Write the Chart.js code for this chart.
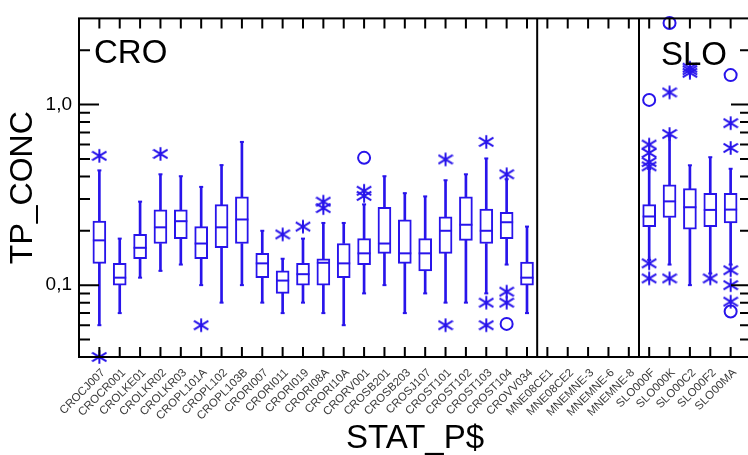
<!DOCTYPE html>
<html>
<head>
<meta charset="utf-8">
<script src="https://cdn.jsdelivr.net/npm/chart.js@4/dist/chart.umd.min.js"></script>
<style>
  html, body { margin: 0; padding: 0; overflow: hidden; background: #fff; }
  #wrap { width: 760px; height: 455px; position: relative; }
</style>
</head>
<body>
<div id="wrap"><canvas id="box-chart"></canvas></div>
<script>
// stations on the x axis
const stations = ['CROCJ007', 'CROCR001', 'CROLKE01', 'CROLKR02', 'CROLKR03', 'CROPL101A', 'CROPL102', 'CROPL103B',
  'CRORI007', 'CRORI011', 'CRORI019', 'CRORI08A', 'CRORI10A', 'CRORV001', 'CROSB201', 'CROSB203', 'CROSJ107',
  'CROST101', 'CROST102', 'CROST103', 'CROST104', 'CROVV034',
  'MNE08CE1', 'MNE08CE2', 'MNEMNE-3', 'MNEMNE-6', 'MNEMNE-8',
  'SLO000F', 'SLO000K', 'SLO00C2', 'SLO00F2', 'SLO00MA'];

// box plot values (TP_CONC), null = no data
const whiskerLow = [0.060, 0.070, 0.110, 0.120, 0.130, 0.100, 0.080, 0.100, 0.080, 0.070, 0.080, 0.070, 0.060, 0.090, 0.100, 0.070, 0.090, 0.080, 0.080, 0.090, 0.130, 0.070,
  null, null, null, null, null, 0.138, 0.130, 0.100, 0.116, 0.130];
const q1 = [0.132, 0.100, 0.140, 0.170, 0.181, 0.140, 0.161, 0.170, 0.110, 0.090, 0.100, 0.100, 0.110, 0.130, 0.150, 0.132, 0.120, 0.150, 0.177, 0.170, 0.181, 0.100,
  null, null, null, null, null, 0.211, 0.237, 0.204, 0.211, 0.221];
const median = [0.177, 0.110, 0.161, 0.209, 0.226, 0.170, 0.209, 0.231, 0.132, 0.106, 0.115, 0.133, 0.132, 0.150, 0.170, 0.150, 0.150, 0.200, 0.216, 0.200, 0.223, 0.110,
  null, null, null, null, null, 0.240, 0.291, 0.270, 0.261, 0.262];
const q3 = [0.226, 0.132, 0.191, 0.261, 0.261, 0.211, 0.279, 0.308, 0.150, 0.120, 0.132, 0.140, 0.170, 0.181, 0.270, 0.230, 0.181, 0.239, 0.308, 0.264, 0.253, 0.134,
  null, null, null, null, null, 0.279, 0.359, 0.342, 0.322, 0.322];
const whiskerHigh = [0.432, 0.181, 0.290, 0.411, 0.401, 0.350, 0.462, 0.621, 0.200, 0.140, 0.181, 0.221, 0.221, 0.280, 0.401, 0.323, 0.310, 0.381, 0.411, 0.503, 0.386, 0.211,
  null, null, null, null, null, 0.440, 0.667, 0.461, 0.511, 0.441];

// outliers: asterisks and circles per station
const starOutliers = [[0.52, 0.040], [], [], [0.533], [], [0.060], [], [], [], [0.191], [0.211], [0.267, 0.290], [], [0.312, 0.333], [], [], [],
  [0.497, 0.060], [], [0.621, 0.080, 0.060], [0.411, 0.092, 0.080], [],
  [], [], [], [], [],
  [0.60, 0.54, 0.48, 0.455, 0.132, 0.109], [0.687, 1.168, 0.109], [1.50, 1.55, 1.60], [0.109], [0.789, 0.575, 0.121, 0.100, 0.081]];
const circleOutliers = [[], [], [], [], [], [], [], [], [], [], [], [], [], [0.507], [], [], [], [], [], [], [0.061], [],
  [], [], [], [], [],
  [1.061], [2.83], [], [], [1.456, 0.0714]];

// group separators and names
const groupBreaks = [21.5, 26.5];
const groupNames = ['CRO', 'SLO'];

// y axis ticks
const yTickVals = [0.1, 1];
const yTickLabels = ['0,1', '1,0'];
const yMinor = [0.05, 0.06, 0.07, 0.08, 0.09, 0.2, 0.3, 0.4, 0.5, 0.6, 0.7, 0.8, 0.9, 2];

const blue = '#2814eb';

// asterisk marker
const star = document.createElement('canvas');
star.width = 16;
star.height = 16;
const sc = star.getContext('2d');
sc.strokeStyle = blue;
sc.lineWidth = 2;
sc.beginPath();
sc.moveTo(8, 1.3); sc.lineTo(8, 14.7);
sc.moveTo(0.8, 3.7); sc.lineTo(15.2, 12.3);
sc.moveTo(0.8, 12.3); sc.lineTo(15.2, 3.7);
sc.stroke();

const boxes = [], upper = [], lower = [], medians = [], caps = [], stars = [], circles = [];
stations.forEach((s, i) => {
  if (q1[i] != null) {
    boxes.push({ x: i, y: [q1[i], q3[i]] });
    upper.push({ x: i, y: [q3[i], whiskerHigh[i]] });
    lower.push({ x: i, y: [whiskerLow[i], q1[i]] });
    medians.push({ x: i, y: median[i] });
    caps.push({ x: i, y: whiskerHigh[i] }, { x: i, y: whiskerLow[i] });
  }
  starOutliers[i].forEach(v => stars.push({ x: i, y: v }));
  circleOutliers[i].forEach(v => circles.push({ x: i, y: v }));
});

const frame = {
  id: 'frame',
  afterDatasetsDraw(chart) {
    const { ctx, chartArea: a, scales: { x, y } } = chart;
    ctx.save();
    ctx.strokeStyle = '#000';
    ctx.lineWidth = 2;
    ctx.strokeRect(a.left, a.top, a.right - a.left, a.bottom - a.top);
    ctx.beginPath();
    stations.forEach((s, i) => {
      const px = x.getPixelForValue(i);
      ctx.moveTo(px, a.top); ctx.lineTo(px, a.top + 10);
      ctx.moveTo(px, a.bottom); ctx.lineTo(px, a.bottom - 10);
    });
    yMinor.forEach(v => {
      const py = y.getPixelForValue(v);
      ctx.moveTo(a.left, py); ctx.lineTo(a.left + 11, py);
      ctx.moveTo(a.right, py); ctx.lineTo(a.right - 11, py);
    });
    yTickVals.forEach(v => {
      const py = y.getPixelForValue(v);
      ctx.moveTo(a.left, py); ctx.lineTo(a.left + 20, py);
      ctx.moveTo(a.right, py); ctx.lineTo(a.right - 20, py);
    });
    groupBreaks.forEach(b => {
      const px = x.getPixelForValue(b);
      ctx.moveTo(px, a.top); ctx.lineTo(px, a.bottom);
    });
    ctx.stroke();

    ctx.fillStyle = '#000';
    ctx.font = '33px "Liberation Sans", Arial, sans-serif';
    ctx.textBaseline = 'alphabetic';
    ctx.fillText(groupNames[0], a.left + 15, a.top + 45);
    ctx.fillText(groupNames[1], x.getPixelForValue(groupBreaks[1]) + 22, a.top + 47);
    ctx.restore();
  }
};

Chart.defaults.font.family = '"Liberation Sans", Arial, Helvetica, sans-serif';

new Chart(document.getElementById('box-chart'), {
  type: 'bar',
  data: {
    datasets: [
      { type: 'scatter', data: medians, pointStyle: 'line', pointRadius: 6.5, pointBorderWidth: 2, borderColor: blue, order: 0, clip: false },
      { type: 'scatter', data: caps, pointStyle: 'line', pointRadius: 2, pointBorderWidth: 2, borderColor: blue, order: 0, clip: false },
      { type: 'scatter', data: stars, pointStyle: star, pointRadius: 8, order: 0, clip: false },
      { type: 'scatter', data: circles, pointStyle: 'circle', pointRadius: 6, pointBorderWidth: 2, borderColor: blue, backgroundColor: 'rgba(0,0,0,0)', order: 0, clip: false },
      { data: boxes, backgroundColor: '#fff', borderColor: blue, borderWidth: 2, borderSkipped: false, barThickness: 13, grouped: false, order: 2 },
      { data: upper, backgroundColor: blue, borderWidth: 0, barThickness: 2, grouped: false, order: 3 },
      { data: lower, backgroundColor: blue, borderWidth: 0, barThickness: 2, grouped: false, order: 3 }
    ]
  },
  options: {
    responsive: true,
    maintainAspectRatio: false,
    animation: false,
    layout: { padding: { top: 17, right: 2, bottom: 0, left: 0 } },
    plugins: { legend: { display: false }, tooltip: { enabled: false } },
    scales: {
      x: {
        type: 'linear',
        min: -1,
        max: 32,
        offset: false,
        grid: { display: false, drawTicks: false },
        border: { display: false },
        afterBuildTicks: axis => { axis.ticks = stations.map((s, i) => ({ value: i })); },
        afterFit: axis => { axis.height = 98; },
        ticks: {
          autoSkip: false,
          minRotation: 45,
          maxRotation: 45,
          padding: 9,
          labelOffset: 4,
          color: '#3a3a3a',
          font: { size: 11.5 },
          callback: v => stations[v] ?? ''
        },
        title: { display: true, text: 'STAT_P$', color: '#000', font: { size: 33, lineHeight: 1 }, padding: 0 }
      },
      y: {
        type: 'logarithmic',
        min: 0.04,
        max: 3,
        grid: { display: false, drawTicks: false },
        border: { display: false },
        afterBuildTicks: axis => { axis.ticks = yTickVals.map(v => ({ value: v })); },
        afterFit: axis => { axis.width = 79; },
        ticks: {
          autoSkip: false,
          padding: 7,
          color: '#000',
          font: { size: 19 },
          callback: (v, i) => yTickLabels[i]
        },
        title: { display: true, text: 'TP_CONC', color: '#000', font: { size: 32, lineHeight: 1 }, padding: { top: 7.5 } }
      }
    }
  },
  plugins: [frame]
});
</script>
</body>
</html>
